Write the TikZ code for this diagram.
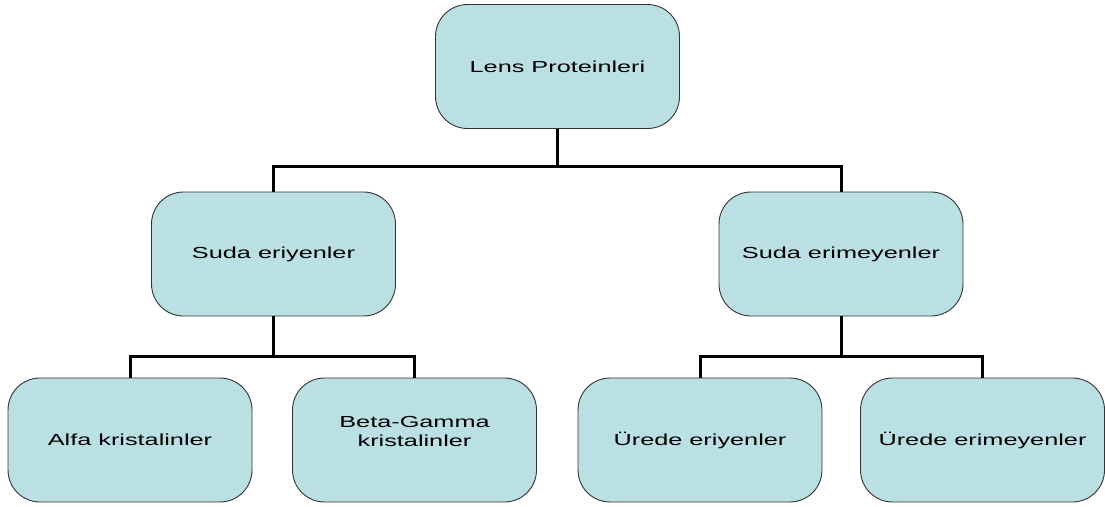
\documentclass[tikz,border=0pt]{standalone}
\usepackage{fontspec}
\setmainfont[FakeStretch=1.58]{Liberation Sans}
\begin{document}
\begin{tikzpicture}[x=1pt,y=-1pt,
  box/.style={draw=black!80,line width=0.9pt,fill=boxfill,rounded corners=32pt,
    minimum width=244pt,minimum height=124pt,inner sep=0pt,align=center,
    font=\fontsize{16}{18.5}\selectfont},
  conn/.style={line width=3pt,line join=miter,black}]
\definecolor{boxfill}{RGB}{187,224,227}
\useasboundingbox (0,0) rectangle (1105,506);
\node[box] (top) at (557.5,66.5) {Lens Proteinleri};
\node[box] (sl) at (273.5,254) {Suda eriyenler};
\node[box] (sr) at (841,254) {Suda erimeyenler};
\node[box] (b1) at (130,440) {Alfa kristalinler};
\node[box] (b2) at (414.5,440) {\raisebox{6.5pt}[\height][\depth]{\begin{tabular}{@{}c@{}}Beta-Gamma\\[0.5pt]kristalinler\end{tabular}}};
\node[box] (b3) at (700,440) {Ürede eriyenler};
\node[box] (b4) at (982.5,440) {Ürede erimeyenler};
\coordinate (j1) at (557.5,166);
\coordinate (j2) at (273.5,356);
\coordinate (j3) at (841,356);
\draw[conn] (top.south) -- (j1);
\draw[conn] (sl.north) |- (j1) -| (sr.north);
\draw[conn] (sl.south) -- (j2);
\draw[conn] (b1.north) |- (j2) -| (b2.north);
\draw[conn] (sr.south) -- (j3);
\draw[conn] (b3.north) |- (j3) -| (b4.north);
\end{tikzpicture}
\end{document}
